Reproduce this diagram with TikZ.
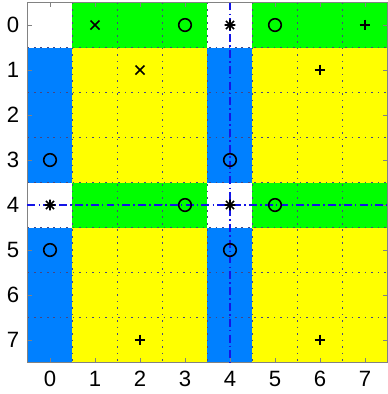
\documentclass[tikz,border=0pt]{standalone}
\usepackage{fontspec}
\setmainfont{Liberation Sans}
\usepackage{xcolor}
\usepackage{tikz}
\usetikzlibrary{positioning}

\definecolor{bleuC}{RGB}{0,128,255}
\definecolor{vertC}{RGB}{0,255,0}
\definecolor{jauneC}{RGB}{255,255,0}
\definecolor{grille}{RGB}{70,70,130}
\definecolor{cadre}{RGB}{130,130,130}
\definecolor{axeC}{RGB}{20,20,230}

\tikzset{
  marque/.style={line width=1pt, black},
  pointille/.style={grille, line width=1pt, dash pattern=on 1pt off 3.1pt},
  axe/.style={axeC, line width=0.8pt, dash pattern=on 5pt off 2pt on 1pt off 2pt},
  etiq/.style={font=\fontsize{14}{16}\selectfont, inner sep=0pt},
  croix/.pic={\draw[marque] (-0.1,-0.1) -- (0.1,0.1) (-0.1,0.1) -- (0.1,-0.1);},
  plus/.pic={\draw[marque] (-0.12,0) -- (0.12,0) (0,-0.12) -- (0,0.12);},
  rond/.pic={\draw[marque] (0,0) circle (0.14);},
  etoile/.pic={\draw[marque] (-0.12,0) -- (0.12,0) (0,-0.12) -- (0,0.12)
      (-0.09,-0.09) -- (0.09,0.09) (-0.09,0.09) -- (0.09,-0.09);}
}

\begin{document}
\begin{tikzpicture}[x=1cm,y=-1cm]
    \def\n{7}    % dernier indice
    \useasboundingbox (-1.111,-0.556) rectangle (7.5,8.2);

    % Cases colorées
    \fill[jauneC] (-0.5,-0.5) rectangle (\n+0.5,\n+0.5);
    \foreach \c in {0,4}{
        \fill[bleuC] (\c-0.5,-0.5) rectangle (\c+0.5,\n+0.5);
        \fill[vertC] (-0.5,\c-0.5) rectangle (\n+0.5,\c+0.5);
    }
    \foreach \c in {0,4}{
        \foreach \r in {0,4}{
            \fill[white] (\c-0.5,\r-0.5) rectangle (\c+0.5,\r+0.5);
        }
    }

    % Grille pointillée
    \foreach \k in {0.5,1.5,...,6.5}{
        \draw[pointille] (\k,-0.5) -- (\k,\n+0.5);
        \draw[pointille] (-0.5,\k) -- (\n+0.5,\k);
    }

    % Cadre, graduations et étiquettes
    \draw[cadre, line width=0.6pt] (-0.5,-0.5) rectangle (\n+0.5,\n+0.5);
    \foreach \k in {0,...,7}{
        \draw[cadre, line width=0.6pt] (\k,-0.5) -- ++(0,0.1) (\k,\n+0.5) -- ++(0,-0.1)
            (-0.5,\k) -- ++(0.1,0) (\n+0.5,\k) -- ++(-0.1,0);
        \node[etiq] (gx\k) at (\k,7.87) {\k};
        \node[etiq] (gy\k) at (-0.82,\k) {\k};
    }

    % Axes en tirets-points
    \draw[axe] (4,-0.5) -- (4,\n+0.5);
    \draw[axe] (-0.5,4) -- (\n+0.5,4);

    % Marqueurs
    \foreach \c/\r/\m in {1/0/croix, 3/0/rond, 4/0/etoile, 5/0/rond, 7/0/plus,
                          2/1/croix, 6/1/plus,
                          0/3/rond, 4/3/rond,
                          0/4/etoile, 3/4/rond, 4/4/etoile, 5/4/rond,
                          0/5/rond, 4/5/rond,
                          2/7/plus, 6/7/plus}{
        \pic at (\c,\r) {\m};
    }
\end{tikzpicture}
\end{document}
